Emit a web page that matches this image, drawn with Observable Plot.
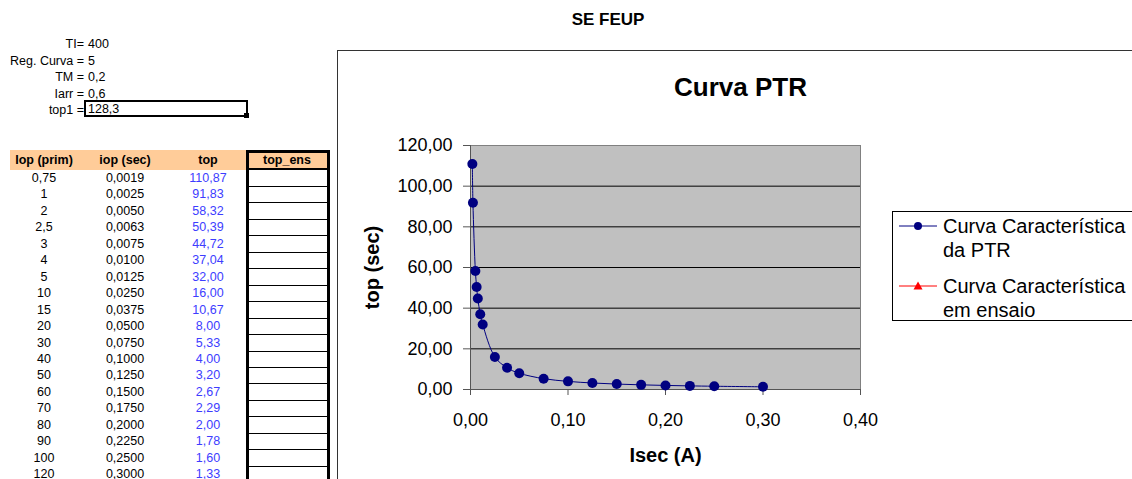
<!DOCTYPE html>
<html><head><meta charset="utf-8">
<script src="https://cdn.jsdelivr.net/npm/d3@7"></script>
<script src="https://cdn.jsdelivr.net/npm/@observablehq/plot@0.6"></script>
<style>
html,body{margin:0;padding:0}
body{width:1132px;height:479px;overflow:hidden;background:#fff;font-family:"Liberation Sans",Arial,sans-serif;position:relative;color:#000}
</style></head><body>
<script>
// ---- data ----
const pageTitle = "SE FEUP";
const chartTitle = "Curva PTR";
const xLabel = "Isec (A)";
const yLabel = "top (sec)";
const paramLabels = ["TI=", "Reg. Curva =", "TM =", "Iarr =", "top1 ="];
const paramValues = ["400", "5", "0,2", "0,6", "128,3"];
const tableHeaders = ["Iop (prim)", "iop (sec)", "top", "top_ens"];
const iopPrim = [0.75, 1, 2, 2.5, 3, 4, 5, 10, 15, 20, 30, 40, 50, 60, 70, 80, 90, 100, 120];
const iopSec = [0.0019, 0.0025, 0.0050, 0.0063, 0.0075, 0.0100, 0.0125, 0.0250, 0.0375, 0.0500, 0.0750, 0.1000, 0.1250, 0.1500, 0.1750, 0.2000, 0.2250, 0.2500, 0.3000];
const topSec = [110.87, 91.83, 58.32, 50.39, 44.72, 37.04, 32.00, 16.00, 10.67, 8.00, 5.33, 4.00, 3.20, 2.67, 2.29, 2.00, 1.78, 1.60, 1.33];
const xTicks = [0, 0.1, 0.2, 0.3, 0.4];
const yTicks = [0, 20, 40, 60, 80, 100, 120];
const yGrid = [20, 40, 60, 80, 100];
const seriesNames = ["Curva Característica\nda PTR", "Curva Característica\nem ensaio"];
const seriesColors = ["#000080", "#ff0000"];

const comma = (v, d) => (d == null ? String(v) : v.toFixed(d)).replace(".", ",");

function el(tag, style, text, parent) {
  const e = document.createElement(tag);
  Object.assign(e.style, style);
  if (text != null) e.textContent = text;
  (parent || document.body).appendChild(e);
  return e;
}
const px = v => v + "px";

// ---- page title ----
el("div", {position:"absolute", left:"508px", width:"200px", top:"10px", textAlign:"center", fontWeight:"bold", fontSize:"17px", lineHeight:"20px"}, pageTitle);

// ---- parameters ----
paramLabels.forEach((lab, i) => {
  const top = 36 + i * 16.6;
  el("div", {position:"absolute", left:"0px", width:"84px", top:px(top), textAlign:"right", fontSize:"12.5px", lineHeight:"16.6px", whiteSpace:"nowrap"}, lab);
  if (i < paramLabels.length - 1)
    el("div", {position:"absolute", left:"88px", top:px(top), fontSize:"12.5px", lineHeight:"16.6px", whiteSpace:"nowrap"}, paramValues[i]);
});
// top1 selected cell
el("div", {position:"absolute", left:"84px", top:"100px", width:"158px", height:"13px", border:"2px solid #000", fontSize:"12.5px", lineHeight:"14px", paddingLeft:"2px", boxSizing:"content-box"}, paramValues[4]);
el("div", {position:"absolute", left:"244px", top:"113px", width:"5px", height:"5px", background:"#000"});

// ---- table ----
const colCenters = [44, 125, 208, 287];
el("div", {position:"absolute", left:"10px", top:"150px", width:"318px", height:"20px", background:"#FFCC99"});
el("div", {position:"absolute", left:"246px", top:"150px", width:"78px", height:"340px", borderLeft:"3px solid #000", borderRight:"3px solid #000", borderTop:"3px solid #000"});
el("div", {position:"absolute", left:"246px", top:"168px", width:"84px", height:"2px", background:"#000"});
tableHeaders.forEach((h, j) => {
  el("div", {position:"absolute", left:px(colCenters[j] - 45), width:"90px", top:"151px", textAlign:"center", fontWeight:"bold", fontSize:"12.5px", lineHeight:"18px"}, h);
});
iopPrim.forEach((p, i) => {
  const top = 170 + i * 16.45;
  el("div", {position:"absolute", left:px(colCenters[0] - 40), width:"80px", top:px(top), textAlign:"center", fontSize:"12.5px", lineHeight:"16.6px"}, comma(p));
  el("div", {position:"absolute", left:px(colCenters[1] - 40), width:"80px", top:px(top), textAlign:"center", fontSize:"12.5px", lineHeight:"16.6px"}, comma(iopSec[i], 4));
  el("div", {position:"absolute", left:px(colCenters[2] - 40), width:"80px", top:px(top), textAlign:"center", fontSize:"12.5px", lineHeight:"16.6px", color:"#3d3dff"}, comma(topSec[i], 2));
  el("div", {position:"absolute", left:"249px", top:px(top + 16), width:"78px", height:"1px", background:"#000"});
});

// ---- chart ----
const pts = iopSec.map((x, i) => ({x, y: topSec[i]}));
const fmt2 = d => comma(d, 2);
const chart = Plot.plot({
  width: 795, height: 429,
  marginLeft: 133, marginRight: 272, marginTop: 95, marginBottom: 90,
  style: {background: "transparent", fontFamily: "'Liberation Sans', Arial, sans-serif", color: "#000", overflow: "visible"},
  x: {domain: [0, 0.4]},
  y: {domain: [0, 120]},
  marks: [
    Plot.frame({fill: "#C0C0C0", stroke: "#808080"}),
    Plot.gridY(yGrid, {stroke: "#000", strokeOpacity: 1}),
    Plot.ruleX([0], {stroke: "#555"}),
    Plot.ruleY([0], {stroke: "#555"}),
    Plot.axisX(xTicks, {tickFormat: fmt2, tickSize: 6, tickPadding: 18, fontSize: 18, label: null, stroke: "#555"}),
    Plot.axisY(yTicks, {tickFormat: fmt2, tickSize: 7, tickPadding: 11, fontSize: 18, label: null, stroke: "#555"}),
    Plot.line(pts, {x: "x", y: "y", curve: "catmull-rom", stroke: seriesColors[0], strokeWidth: 1}),
    Plot.dot(pts, {x: "x", y: "y", r: 5, fill: seriesColors[0], stroke: null}),
    Plot.text([chartTitle], {frameAnchor: "top", dx: 75, dy: -58, fontSize: 26, fontWeight: "bold", lineAnchor: "middle", textAnchor: "middle"}),
    Plot.text([xLabel], {frameAnchor: "bottom", dy: 66, fontSize: 20, fontWeight: "bold", lineAnchor: "middle", textAnchor: "middle"}),
    Plot.text([yLabel], {frameAnchor: "left", dx: -98, rotate: -90, fontSize: 20, fontWeight: "bold", lineAnchor: "middle", textAnchor: "middle"})
  ]
});
const holder = el("div", {position:"absolute", left:"337px", top:"50px"});
holder.appendChild(chart);
el("div", {position:"absolute", left:"337px", top:"50px", width:"820px", height:"460px", border:"1px solid #333", boxSizing:"border-box"});

// ---- legend ----
el("div", {position:"absolute", left:"892px", top:"211px", width:"260px", height:"110px", border:"1px solid #000", boxSizing:"border-box", background:"#fff"});
const lsvg = d3.select(document.body).append("svg")
  .style("position", "absolute").style("left", "0px").style("top", "0px")
  .attr("width", 1132).attr("height", 479).style("pointer-events", "none");
const entryY = [226, 286];
seriesNames.forEach((name, i) => {
  const y = entryY[i];
  lsvg.append("line").attr("x1", 899).attr("x2", 937).attr("y1", y).attr("y2", y).attr("stroke", seriesColors[i]).attr("stroke-width", 1);
  if (i === 0) lsvg.append("circle").attr("cx", 918).attr("cy", y).attr("r", 4).attr("fill", seriesColors[i]);
  else lsvg.append("path").attr("d", `M918,${y-4.5}L922.5,${y+3.5}L913.5,${y+3.5}Z`).attr("fill", seriesColors[i]);
  name.split("\n").forEach((ln, k) => {
    el("div", {position:"absolute", left:"943px", top:px(y - 12 + k * 24), fontSize:"20px", lineHeight:"24px", whiteSpace:"nowrap"}, ln);
  });
});
</script>
</body></html>
